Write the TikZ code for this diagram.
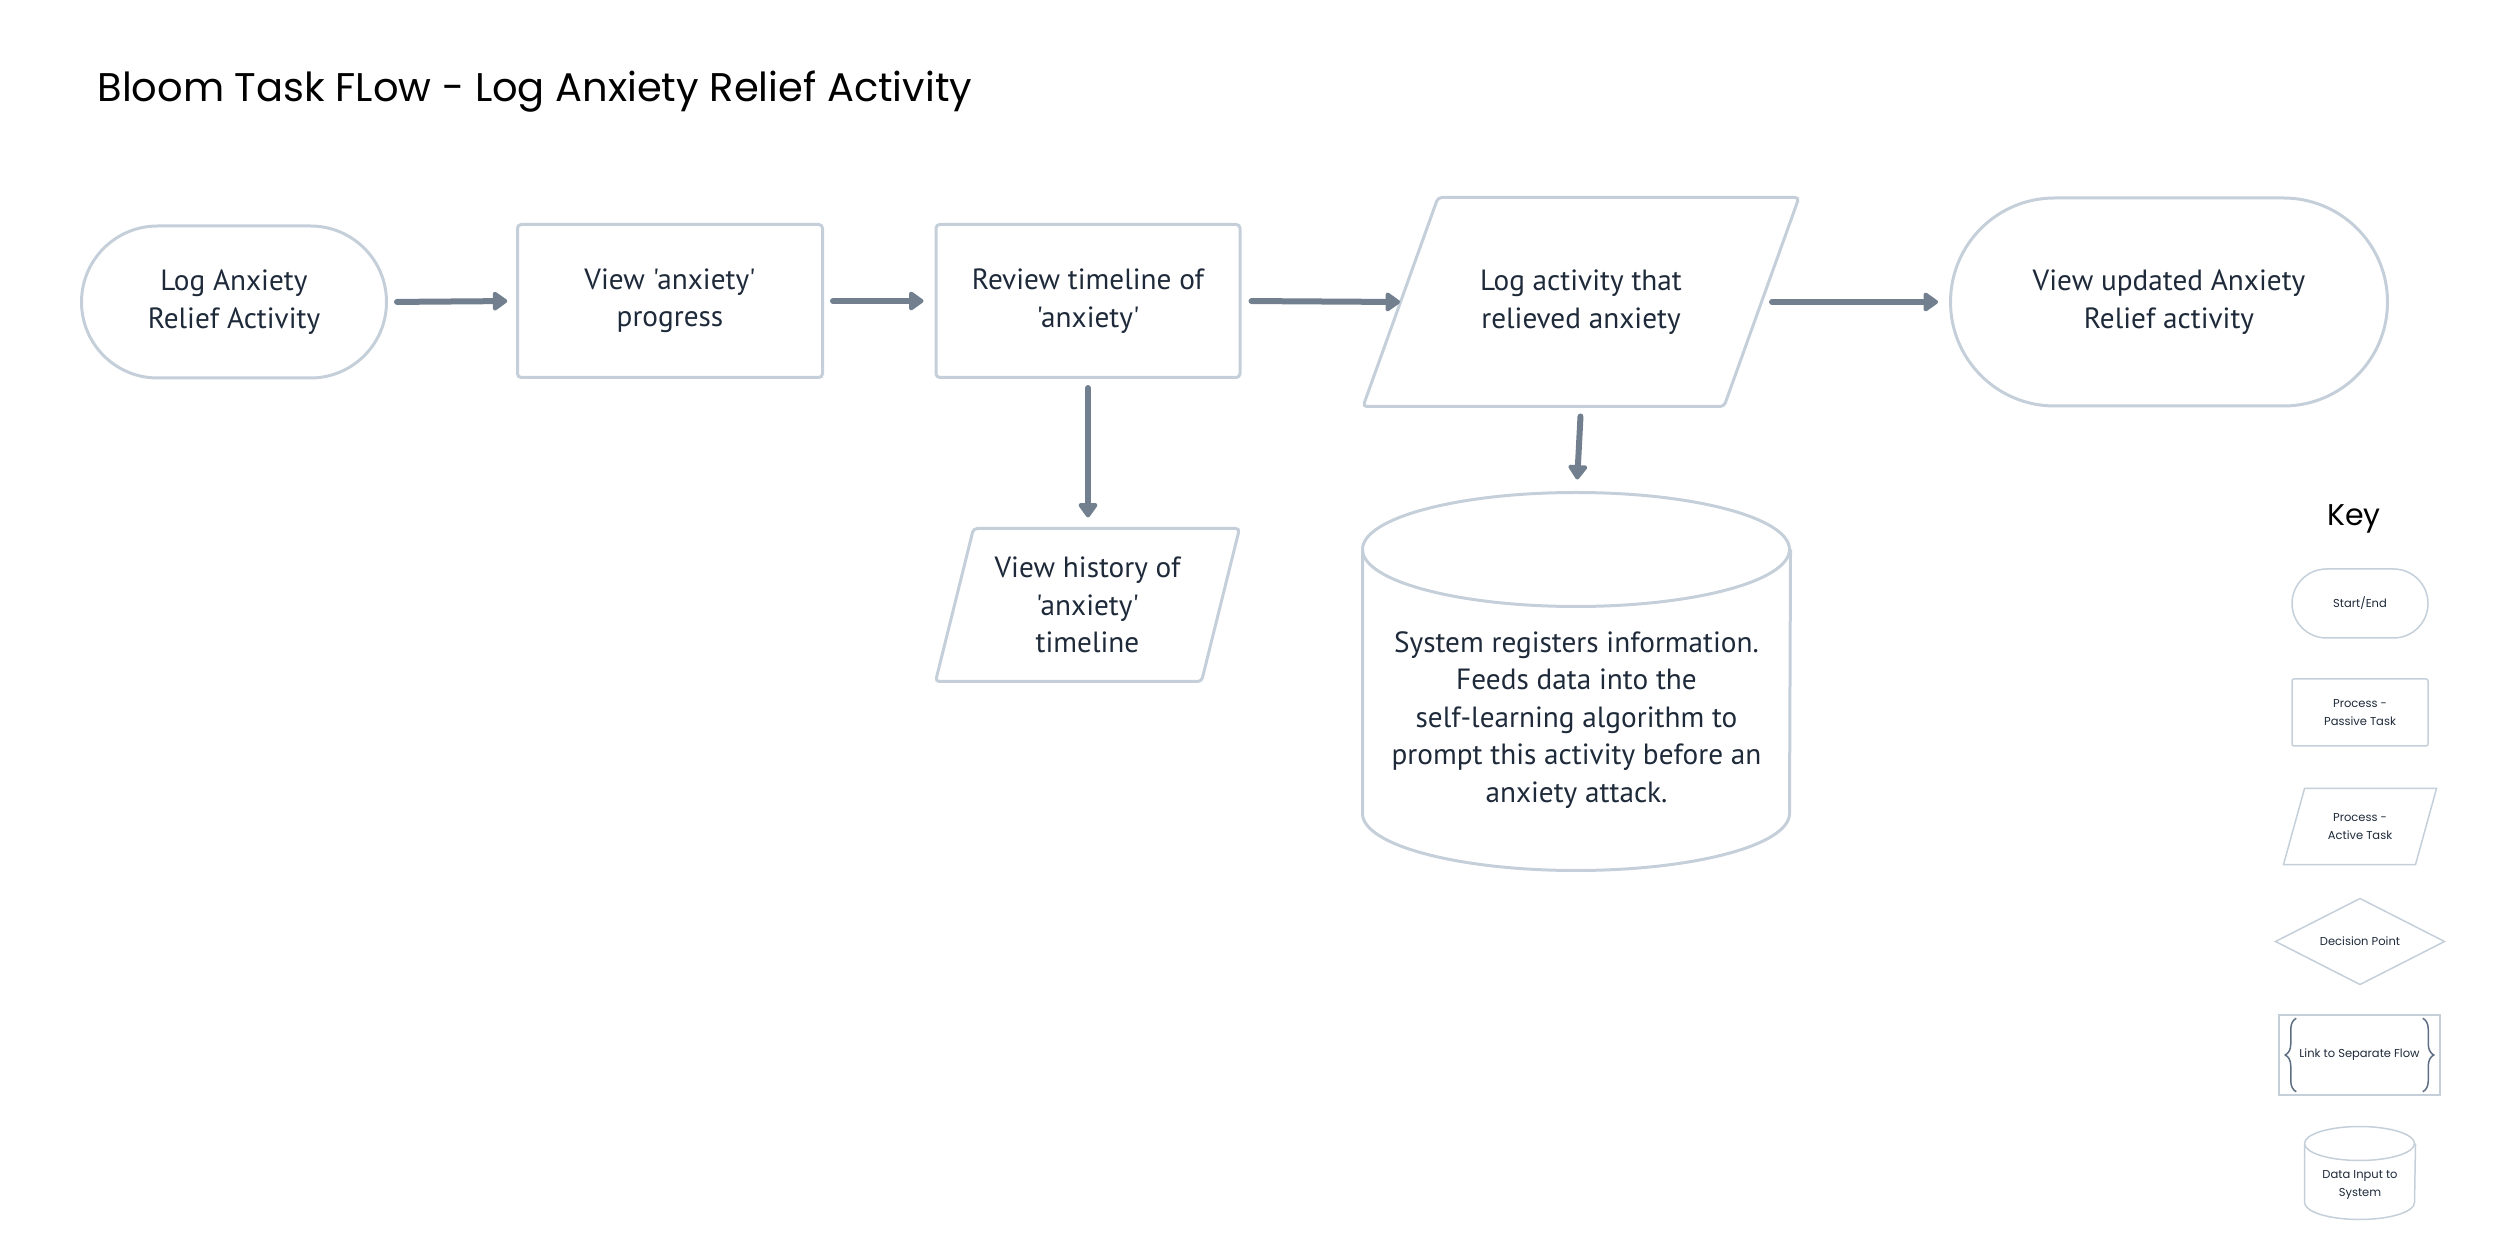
\documentclass[tikz,border=0pt]{standalone}
\usepackage{fontspec}
\setmainfont{PT Sans}[Ligatures=TeXOff]
\newfontfamily\titlefont{Poppins}
\usetikzlibrary{arrows.meta,calc,decorations.pathreplacing}
\definecolor{edgec}{HTML}{C4CFDA}
\definecolor{arrowc}{HTML}{717F8F}
\definecolor{textc}{HTML}{1E2A3A}
\definecolor{bracec}{HTML}{5E6F84}
\tikzset{
  body/.style={font=\fontsize{11.7}{15}\selectfont, text=textc, align=center, inner sep=0pt},
  keytext/.style={font=\titlefont\fontsize{4.6}{7}\selectfont, text=textc, align=center, inner sep=0pt},
  outline/.style={draw=edgec, line width=1.2pt},
  thinline/.style={draw=edgec, line width=0.6pt},
  boxnode/.style={body, outline, rounded corners=1.5pt},
  ghost/.style={body, draw=none},
  flow/.style={draw=arrowc, line width=2.4pt, line cap=round,
     -{Triangle[length=6.4pt,width=8.6pt,round]}},
}
\begin{document}
\begin{tikzpicture}[x=0.4pt,y=-0.4pt]
\useasboundingbox (0,0) rectangle (2500,1257);

% title
\node[anchor=base west, inner sep=0pt, font=\titlefont\fontsize{16}{19}\selectfont, text=black] (title) at (97,102) {Bloom Task FLow - Log Anxiety Relief Activity};

% main flow
\node[boxnode, rounded corners=30.4pt, minimum width=122pt, minimum height=60.8pt] (start) at (234,302) {Log Anxiety\\Relief Activity};
\node[boxnode, minimum width=122pt, minimum height=61.2pt] (view) at (670,301) {View 'anxiety'\\progress};
\node[boxnode, minimum width=121.6pt, minimum height=61.2pt] (review) at (1088,301) {Review timeline of\\'anxiety'};
\node[ghost, minimum width=174pt, minimum height=83.2pt] (logact) at (1581,302) {Log activity that\\relieved anxiety};
\draw[outline, rounded corners=1.5pt] ($(logact.north west)+(75,0)$) -- (logact.north east) -- ($(logact.south east)+(-75,0)$) -- (logact.south west) -- cycle;
\node[boxnode, rounded corners=41.6pt, minimum width=174.8pt, minimum height=83.2pt] (final) at (2169,302) {View updated Anxiety\\Relief activity};

\node[ghost, minimum width=121.2pt, minimum height=60.8pt] (history) at (1087.5,605) {View history of\\'anxiety'\\timeline};
\draw[outline, rounded corners=1.5pt] ($(history.north west)+(38,0)$) -- (history.north east) -- ($(history.south east)+(-38,0)$) -- (history.south west) -- cycle;

% database cylinder
\node[draw=none, minimum width=170.8pt, minimum height=150.8pt, inner sep=0pt] (db) at (1576.5,681.5) {};
\draw[outline] (db.north west) ++(0,57) arc[start angle=180, end angle=-180, x radius=213.5, y radius=-57];
\draw[outline] ($(db.north west)+(0,57)$) -- ($(db.south west)+(0,-57)$) arc[start angle=180, end angle=360, x radius=213.5, y radius=-57] -- ($(db.north east)+(0,57)$);
\node[body] (dbtext) at (1576.5,720) {System registers information.\\Feeds data into the\\self-learning algorithm to\\prompt this activity before an\\anxiety attack.};

% connectors
\draw[flow, shorten <=3.6pt, shorten >=3.5pt] (start.east) -- (view.west);
\draw[flow, shorten <=3.6pt, shorten >=4.4pt] (view.east) -- (review.west);
\draw[flow, shorten <=4pt] (review.east) -- ($(logact.west)+(37,0)$);
\draw[flow, shorten >=4.4pt] ($(logact.east)+(-27,0)$) -- (final.west);
\draw[flow, shorten <=3.6pt, shorten >=4.4pt] (review.south) -- (review.south |- history.north);
\draw[flow, shorten <=4pt, shorten >=5.2pt] (logact.south) -- (db.north);

% key
\node[anchor=base, inner sep=0pt, font=\titlefont\fontsize{12}{14}\selectfont, text=black] (keytitle) at (2354,526) {Key};
\node[keytext, thinline, rounded corners=13.8pt, minimum width=54.4pt, minimum height=27.6pt] (kstart) at (2360,603.5) {Start/End};
\node[keytext, thinline, rounded corners=0.8pt, minimum width=54.4pt, minimum height=26.8pt] (kpass) at (2360,712.5) {Process -\\Passive Task};
\node[keytext, minimum width=60.8pt, minimum height=30pt] (kact) at (2360,826.5) {Process -\\Active Task};
\draw[thinline] ($(kact.north west)+(21,0)$) -- (kact.north east) -- ($(kact.south east)+(-21,0)$) -- (kact.south west) -- cycle;
\node[keytext, minimum width=67.2pt, minimum height=34pt] (kdec) at (2360,941.5) {Decision Point};
\draw[thinline] (kdec.north) -- (kdec.east) -- (kdec.south) -- (kdec.west) -- cycle;
\node[keytext, thinline, minimum width=64.4pt, minimum height=32pt] (klink) at (2359.5,1055) {Link to Separate Flow};
\draw[draw=bracec, line width=0.6pt, decorate, decoration={brace, amplitude=4.4pt}] ($(klink.south west)+(18,-4)$) -- ($(klink.north west)+(18,4)$);
\draw[draw=bracec, line width=0.6pt, decorate, decoration={brace, amplitude=4.4pt}] ($(klink.north east)+(-18,4)$) -- ($(klink.south east)+(-18,-4)$);
\node[draw=none, minimum width=44pt, minimum height=36.8pt, inner sep=0pt] (kdb) at (2360,1173) {};
\draw[thinline] (kdb.north west) ++(0,17) arc[start angle=180, end angle=-180, x radius=55, y radius=-17];
\draw[thinline] ($(kdb.north west)+(0,17)$) -- ($(kdb.south west)+(0,-17)$) arc[start angle=180, end angle=360, x radius=55, y radius=-17] -- ($(kdb.north east)+(0,17)$);
\node[keytext] (kdbtext) at (2360,1185) {Data Input to\\System};
\end{tikzpicture}
\end{document}
